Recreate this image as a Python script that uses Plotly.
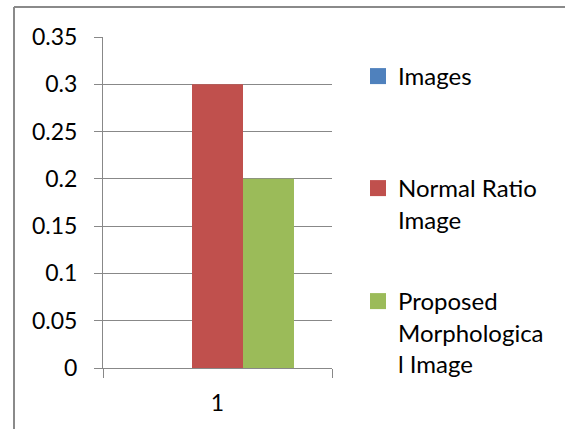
import plotly.graph_objects as go

categories = ["1"]
series_names = ["Images", "Normal Ratio<br>Image", "Proposed<br>Morphologica<br>l Image"]
series_values = [[0.0], [0.3], [0.2]]
series_colors = ["#4F81BD", "#C0504D", "#9BBB59"]
y_ticks = [0, 0.05, 0.1, 0.15, 0.2, 0.25, 0.3, 0.35]
y_tick_labels = ["0", "0.05", "0.1", "0.15", "0.2", "0.25", "0.3", "0.35"]

FONT = "Lato"
FS = 23
LFS = 24
GRID = "#888888"

fig = go.Figure()
legend_ids = ["legend", "legend2", "legend3"]
for name, vals, col, lg in zip(series_names, series_values, series_colors, legend_ids):
    fig.add_trace(go.Bar(x=categories, y=vals, name=name, marker=dict(color=col, line=dict(width=0)),
                         showlegend=False))
    fig.add_trace(go.Scatter(x=[None], y=[None], mode="markers", name=name,
                             marker=dict(symbol="square", size=16, color=col, line=dict(width=0)),
                             legend=lg, showlegend=True))

W, H = 565, 429
L, R, T, B = 103, 332, 37, 368
pw, ph = R - L, B - T

def px(x):
    return (x - L) / pw

def py(y):
    return (B - y) / ph

legend_common = dict(font=dict(family=FONT, size=LFS, color="#000000"), bgcolor="rgba(0,0,0,0)",
                     xanchor="left", yanchor="top", valign="top", itemclick=False, itemdoubleclick=False)

LX = 358
fig.update_layout(
    width=W, height=H,
    margin=dict(l=L, r=W - R, t=T, b=H - B, autoexpand=False),
    paper_bgcolor="white", plot_bgcolor="white",
    barmode="group", bargap=0.332, bargroupgap=0,
    font=dict(family=FONT, size=FS, color="#000000"),
    legend=dict(x=px(LX), y=py(54), **legend_common),
    legend2=dict(x=px(LX), y=py(166), **legend_common),
    legend3=dict(x=px(LX), y=py(279), **legend_common),
    xaxis=dict(type="category", showgrid=False, showline=True, linecolor=GRID, linewidth=1,
               ticks="outside", ticklen=9, tickcolor=GRID, tickson="boundaries",
               tickfont=dict(family=FONT, size=FS, color="#000000"), ticklabelstandoff=14,
               range=[-0.5, 0.5], fixedrange=True),
    yaxis=dict(range=[0, 0.35], tickvals=y_ticks, ticktext=y_tick_labels, showgrid=True,
               gridcolor=GRID, gridwidth=1, showline=True, linecolor=GRID, linewidth=1,
               ticks="outside", ticklen=8, tickcolor=GRID, zeroline=False,
               tickfont=dict(family=FONT, size=FS, color="#000000"), ticklabelstandoff=12,
               fixedrange=True),
    shapes=[
        dict(type="line", xref="paper", yref="paper", x0=px(14), x1=px(W), y0=py(7), y1=py(7),
             line=dict(color="#8a8a8a", width=2), layer="above"),
        dict(type="line", xref="paper", yref="paper", x0=px(14), x1=px(14), y0=py(7), y1=py(H),
             line=dict(color="#8a8a8a", width=2), layer="above"),
    ],
)

fig.write_html("out.html", config={"displayModeBar": False},
               post_script="document.body.style.margin='0';document.body.style.overflow='hidden';")
